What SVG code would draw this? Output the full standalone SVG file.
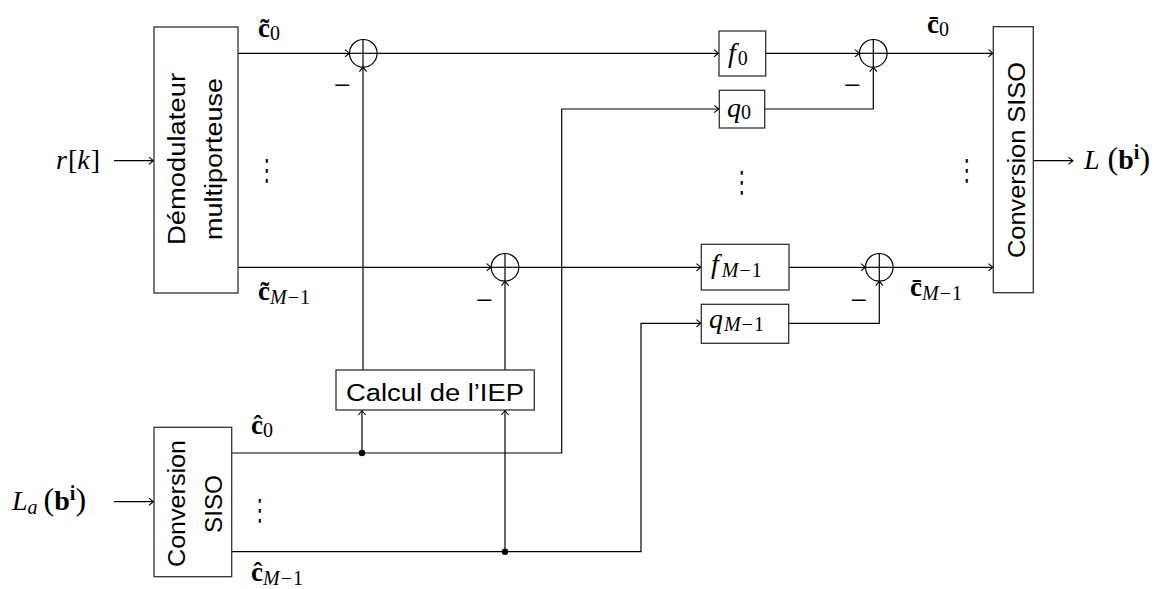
<svg xmlns="http://www.w3.org/2000/svg" width="1162" height="589" viewBox="0 0 1162 589">
<style>
.box{fill:#fff;stroke:#333;stroke-width:1.3}
.ln{fill:none;stroke:#000;stroke-width:1.2}
.arr{fill:none;stroke:#000;stroke-width:1.2;marker-end:url(#ah)}
.sans{font-family:"Liberation Sans","DejaVu Sans",sans-serif;font-size:23px;fill:#000}
.m{font-family:"Liberation Serif","DejaVu Serif",serif;font-size:28px;fill:#000}
.lab{font-size:27px}
.mi{font-style:italic}
.b{font-weight:bold}
.sub{font-size:20px}
.dots{font-family:"DejaVu Sans",sans-serif;font-size:22px;fill:#000}
</style>
<defs>
<marker id="ah" markerUnits="userSpaceOnUse" markerWidth="10" markerHeight="10" refX="0" refY="0" viewBox="-6 -5 7 10" orient="auto" overflow="visible">
<path d="M-4.5,-3.6 Q-1.2,-0.8 0,0 Q-1.2,0.8 -4.5,3.6" fill="none" stroke="#000" stroke-width="1.1"/>
</marker>
</defs>

<g id="connectors">
<line class="arr" x1="114" y1="160.7" x2="153.5" y2="160.7"/>
<line class="arr" x1="238" y1="53.3" x2="349.5" y2="53.3"/>
<line class="arr" x1="377" y1="53.3" x2="718.5" y2="53.3"/>
<line class="arr" x1="766" y1="53.3" x2="859.5" y2="53.3"/>
<line class="arr" x1="887" y1="53.3" x2="993" y2="53.3"/>
<line class="arr" x1="238" y1="267.3" x2="491.2" y2="267.3"/>
<line class="arr" x1="518.8" y1="267.3" x2="701" y2="267.3"/>
<line class="arr" x1="789" y1="267.3" x2="865.5" y2="267.3"/>
<line class="arr" x1="893" y1="267.3" x2="993" y2="267.3"/>
<polyline class="arr" points="765,109 873.3,109 873.3,67.1"/>
<polyline class="arr" points="789,323.3 879.3,323.3 879.3,281.1"/>
<line class="arr" x1="363" y1="370" x2="363" y2="67.1"/>
<line class="arr" x1="505" y1="370" x2="505" y2="281.1"/>
<polyline class="arr" points="232,453 561.7,453 561.7,109 718.8,109"/>
<line class="arr" x1="362" y1="453" x2="362" y2="410.5"/>
<polyline class="arr" points="232,551.7 641,551.7 641,323.3 701,323.3"/>
<line class="arr" x1="505" y1="551.7" x2="505" y2="410.5"/>
<line class="arr" x1="114" y1="501.7" x2="153.5" y2="501.7"/>
<line class="arr" x1="1033.3" y1="160.7" x2="1073" y2="160.7"/>
<circle cx="362" cy="453" r="3.2" fill="#000"/>
<circle cx="505" cy="551.7" r="3.2" fill="#000"/>
</g>

<g id="demod">
<rect class="box" x="154" y="27" width="84" height="266"/>
<text class="sans" transform="translate(185,159) rotate(-90)" text-anchor="middle" textLength="172" lengthAdjust="spacingAndGlyphs">Démodulateur</text>
<text class="sans" transform="translate(222,159) rotate(-90)" text-anchor="middle" textLength="162" lengthAdjust="spacingAndGlyphs">multiporteuse</text>
</g>

<g id="siso-in">
<rect class="box" x="154" y="427.3" width="77.7" height="149.4"/>
<text class="sans" transform="translate(185,503.5) rotate(-90)" text-anchor="middle" textLength="127" lengthAdjust="spacingAndGlyphs">Conversion</text>
<text class="sans" transform="translate(222,504) rotate(-90)" text-anchor="middle" textLength="58" lengthAdjust="spacingAndGlyphs">SISO</text>
</g>

<g id="siso-out">
<rect class="box" x="993.3" y="26.7" width="40" height="266"/>
<text class="sans" transform="translate(1025,160) rotate(-90)" text-anchor="middle" textLength="196" lengthAdjust="spacingAndGlyphs">Conversion SISO</text>
</g>

<g id="iep">
<rect class="box" x="336" y="370" width="198.3" height="40"/>
<text class="sans" x="435" y="400.5" text-anchor="middle" textLength="178" lengthAdjust="spacingAndGlyphs">Calcul de l’IEP</text>
</g>

<g id="f0">
<rect class="box" x="719" y="31" width="46.7" height="45"/>
<text class="m" x="728" y="62"><tspan class="mi">f</tspan><tspan class="sub" dx="2" dy="3">0</tspan></text>
</g>
<g id="q0">
<rect class="box" x="719.3" y="90.3" width="45.4" height="37.7"/>
<text class="m" x="727" y="117"><tspan class="mi">q</tspan><tspan class="sub" dy="2">0</tspan></text>
</g>
<g id="fM">
<rect class="box" x="701.3" y="244.3" width="87.7" height="45.7"/>
<text class="m" x="711" y="273"><tspan class="mi">f</tspan><tspan class="sub mi" dx="3" dy="4">M</tspan><tspan class="sub" dx="1">−</tspan><tspan class="sub" dx="1">1</tspan></text>
</g>
<g id="qM">
<rect class="box" x="701.3" y="304.3" width="87.4" height="39"/>
<text class="m" x="709" y="328"><tspan class="mi">q</tspan><tspan class="sub mi" dx="1" dy="3">M</tspan><tspan class="sub" dx="1">−</tspan><tspan class="sub" dx="1">1</tspan></text>
</g>

<g id="sum1"><circle class="ln" cx="363.3" cy="53.3" r="13.8"/><line class="ln" x1="363" y1="39.5" x2="363" y2="67.1"/><line class="ln" x1="349.5" y1="53.3" x2="377" y2="53.3"/></g>
<g id="sum2"><circle class="ln" cx="505" cy="267.3" r="13.8"/><line class="ln" x1="505" y1="253.5" x2="505" y2="281.1"/><line class="ln" x1="491.2" y1="267.3" x2="518.8" y2="267.3"/></g>
<g id="sum3"><circle class="ln" cx="873.3" cy="53.3" r="13.8"/><line class="ln" x1="873.3" y1="39.5" x2="873.3" y2="67.1"/><line class="ln" x1="859.5" y1="53.3" x2="887" y2="53.3"/></g>
<g id="sum4"><circle class="ln" cx="879.3" cy="267.3" r="13.8"/><line class="ln" x1="879.3" y1="253.5" x2="879.3" y2="281.1"/><line class="ln" x1="865.5" y1="267.3" x2="893" y2="267.3"/></g>

<g id="labels">
<text class="m" x="100" y="169" text-anchor="end"><tspan class="mi">r</tspan><tspan dx="1">[</tspan><tspan class="mi">k</tspan><tspan dx="1">]</tspan></text>
<text class="m" x="12" y="510"><tspan class="mi">L</tspan><tspan class="sub mi" dy="4">a</tspan><tspan dy="-4" dx="6" style="font-size:32px">(</tspan><tspan class="b">b</tspan><tspan class="sub b" dy="-10">i</tspan><tspan dy="10" style="font-size:32px">)</tspan></text>
<text class="m" x="1084" y="169"><tspan class="mi">L</tspan><tspan dx="8" style="font-size:32px">(</tspan><tspan class="b">b</tspan><tspan class="sub b" dy="-10">i</tspan><tspan dy="10" style="font-size:32px">)</tspan></text>
<text class="m lab" x="258" y="37"><tspan class="b">c&#771;</tspan><tspan class="sub" dy="3">0</tspan></text>
<text class="m lab" x="258" y="300"><tspan class="b">c&#771;</tspan><tspan class="sub mi" dy="4">M</tspan><tspan class="sub" dx="1">−</tspan><tspan class="sub" dx="1">1</tspan></text>
<text class="m lab" x="927" y="33"><tspan class="b">c&#772;</tspan><tspan class="sub" dy="3">0</tspan></text>
<text class="m lab" x="910" y="296"><tspan class="b">c&#772;</tspan><tspan class="sub mi" dy="4">M</tspan><tspan class="sub" dx="1">−</tspan><tspan class="sub" dx="1">1</tspan></text>
<text class="m lab" x="251" y="434"><tspan class="b">c&#770;</tspan><tspan class="sub" dy="3">0</tspan></text>
<text class="m lab" x="251" y="581"><tspan class="b">c&#770;</tspan><tspan class="sub mi" dy="4">M</tspan><tspan class="sub" dx="1">−</tspan><tspan class="sub" dx="1">1</tspan></text>
<text class="m" x="342.5" y="95" text-anchor="middle" style="font-size:30px">−</text>
<text class="m" x="852.5" y="95" text-anchor="middle" style="font-size:30px">−</text>
<text class="m" x="484.5" y="309.5" text-anchor="middle" style="font-size:30px">−</text>
<text class="m" x="859" y="309.5" text-anchor="middle" style="font-size:30px">−</text>
<text class="dots" transform="translate(267,180) scale(0.9,1.35)" text-anchor="middle">⋮</text>
<text class="dots" transform="translate(742,192) scale(0.9,1.35)" text-anchor="middle">⋮</text>
<text class="dots" transform="translate(967,180) scale(0.9,1.35)" text-anchor="middle">⋮</text>
<text class="dots" transform="translate(260,520) scale(0.9,1.35)" text-anchor="middle">⋮</text>
</g>
</svg>
